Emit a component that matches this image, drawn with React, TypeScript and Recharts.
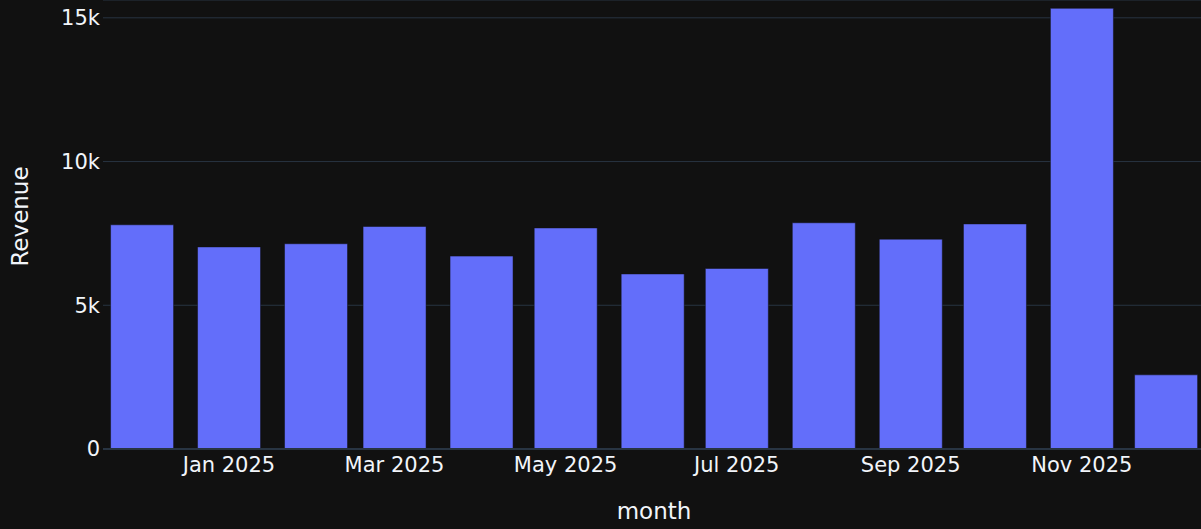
import { Bar, BarChart, CartesianGrid, ReferenceLine, XAxis, YAxis } from "recharts";

const months = [
  "2024-12", "2025-01", "2025-02", "2025-03", "2025-04", "2025-05", "2025-06",
  "2025-07", "2025-08", "2025-09", "2025-10", "2025-11", "2025-12",
];
const revenue = [7800, 7030, 7140, 7740, 6710, 7690, 6090, 6280, 7870, 7300, 7830, 15330, 2580];
const tickMonths = ["2025-01", "2025-03", "2025-05", "2025-07", "2025-09", "2025-11"];
const revenueTicks = [0, 5000, 10000, 15000];

const monthNames = ["Jan", "Feb", "Mar", "Apr", "May", "Jun", "Jul", "Aug", "Sep", "Oct", "Nov", "Dec"];
const DAY = 86400000;

const toTime = (m: string) => {
  const [y, mo] = m.split("-").map(Number);
  return Date.UTC(y, mo - 1, 1);
};

const data = months.map((m, i) => ({ t: toTime(m), revenue: revenue[i] }));
const xTicks = tickMonths.map(toTime);

const fmtMonth = (t: number) => {
  const d = new Date(t);
  return `${monthNames[d.getUTCMonth()]} ${d.getUTCFullYear()}`;
};
const fmtK = (v: number) => (v === 0 ? "0" : `${v / 1000}k`);

const FONT = "'DejaVu Sans', Verdana, sans-serif";
const TEXT = "#f2f5fa";

const App = () => {
  const pad = 13.9 * DAY;
  return (
    <div style={{ position: "absolute", left: 0, top: 0, width: 1201, height: 529, background: "#111111" }}>
      <BarChart
        width={1201}
        height={529}
        data={data}
        margin={{ top: 0, right: -4, bottom: 0, left: 0 }}
        barCategoryGap="10%"
        style={{ fontFamily: FONT }}
      >
        <CartesianGrid vertical={false} stroke="#283442" strokeWidth={1} />
        <XAxis
          dataKey="t"
          type="number"
          scale="time"
          domain={[data[0].t - pad, data[data.length - 1].t + pad]}
          ticks={xTicks}
          tickFormatter={fmtMonth}
          axisLine={false}
          tickLine={false}
          tickSize={0}
          tickMargin={8}
          height={80}
          tick={{ fill: TEXT, fontSize: 21, fontFamily: FONT }}
          label={{ value: "month", position: "insideBottom", offset: 10, fill: TEXT, fontSize: 23, fontFamily: FONT }}
        />
        <YAxis
          domain={[0, 15620]}
          ticks={revenueTicks}
          tickFormatter={fmtK}
          axisLine={false}
          tickLine={false}
          tickSize={0}
          tickMargin={3}
          width={103}
          allowDataOverflow
          tick={{ fill: TEXT, fontSize: 21, fontFamily: FONT }}
          label={{
            value: "Revenue",
            content: ({ viewBox }: any) => {
              const cy = viewBox.y + viewBox.height / 2 - 8;
              return (
                <text
                  x={28}
                  y={cy}
                  transform={`rotate(-90 28 ${cy})`}
                  textAnchor="middle"
                  fill={TEXT}
                  fontSize={23}
                  fontFamily={FONT}
                >
                  Revenue
                </text>
              );
            },
          }}
        />
        <ReferenceLine y={0} stroke="#283442" strokeWidth={2} />
        <Bar dataKey="revenue" fill="#636efa" stroke="#111111" strokeWidth={0.5} isAnimationActive={false} />
      </BarChart>
    </div>
  );
};

export default App;
